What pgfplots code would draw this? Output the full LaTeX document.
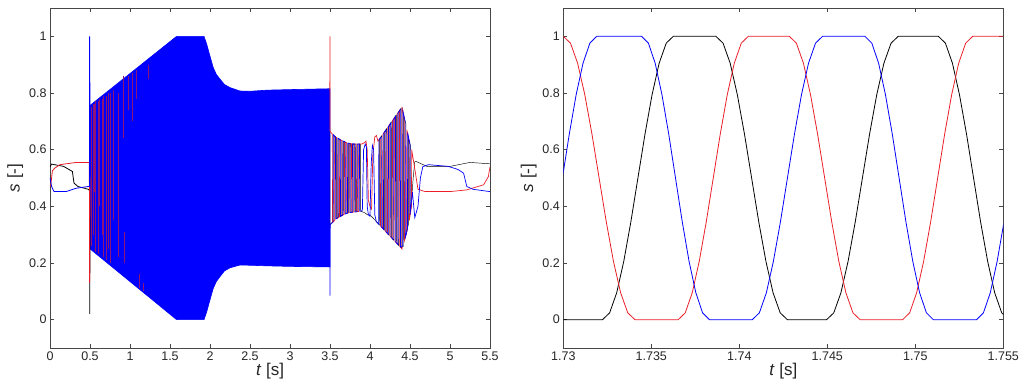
\documentclass[border=0pt]{standalone}
\usepackage{fontspec}
\setmainfont{Liberation Sans}
\usepackage{pgfplots}
\pgfplotsset{compat=1.18}
\definecolor{framegray}{RGB}{70,70,70}
\definecolor{mred}{RGB}{235,30,40}
\definecolor{mpurp}{RGB}{140,20,120}
\pgfplotsset{mystyle/.style={
  width=440pt, height=340pt, scale only axis,
  tick align=inside, tick pos=both, major tick length=4pt,
  axis line style={framegray, line width=0.7pt},
  every tick/.style={framegray, line width=0.7pt},
  ymin=-0.1, ymax=1.1,
  ytick={0,0.2,0.4,0.6,0.8,1},
  yticklabels={0,0.2,0.4,0.6,0.8,1},
  ticklabel style={font=\fontsize{12.5}{14}\selectfont, color=black!85},
  label style={font=\fontsize{17}{19}\selectfont, color=black!85},
  xlabel={\textit{t} [s]}, ylabel={\textit{s} [-]},
  xlabel style={yshift=4pt},
  ylabel style={yshift=-1pt},
  clip=true,
}}
\begin{document}
\begin{tikzpicture}
\path[use as bounding box] (-50pt,-39pt) rectangle (973pt,348pt);
% ---------------- left panel ----------------
\begin{axis}[mystyle, at={(0pt,0pt)}, anchor=south west,
  xmin=0, xmax=5.5,
  xtick={0,0.5,1,1.5,2,2.5,3,3.5,4,4.5,5,5.5},
  xticklabels={0,0.5,1,1.5,2,2.5,3,3.5,4,4.5,5,5.5}]
% dense blue band
\addplot[draw=blue, fill=blue, line width=0.6pt] coordinates {
(0.5,0.756) (1.583,1.0) (1.925,1.0) (1.958,0.973) (2.0,0.93) (2.04,0.89) (2.08,0.865) (2.125,0.849) (2.18,0.83) (2.25,0.819) (2.375,0.807) (2.5,0.806) (2.71,0.81) (3.0,0.812) (3.5,0.815)
(3.5,0.186) (3.0,0.188) (2.71,0.19) (2.5,0.192) (2.375,0.193) (2.25,0.183) (2.18,0.172) (2.125,0.152) (2.08,0.135) (2.04,0.11) (2.0,0.07) (1.958,0.027) (1.925,0) (1.583,0) (0.5,0.25)
} -- cycle;
% red/purple streaks inside the band
\addplot[mpurp, line width=0.8pt, unbounded coords=jump] coordinates {
(0.52,0.26) (0.52,0.75) (0.52,nan)
(0.54,0.30) (0.54,0.76) (0.54,nan)
(0.56,0.45) (0.56,0.76) (0.56,nan)
(0.57,0.24) (0.57,0.77) (0.57,nan)
(0.60,0.23) (0.60,0.77) (0.60,nan)
(0.62,0.40) (0.62,0.78) (0.62,nan)
(0.65,0.30) (0.65,0.78) (0.65,nan)
(0.67,0.22) (0.67,0.79) (0.67,nan)
(0.70,0.21) (0.70,0.79) (0.70,nan)
(0.73,0.25) (0.73,0.80) (0.73,nan)
(0.76,0.20) (0.76,0.80) (0.76,nan)
(0.79,0.35) (0.79,0.81) (0.79,nan)
(0.85,0.22) (0.85,0.80) (0.85,nan)
(0.92,0.64) (0.92,0.86) (0.92,nan)
(0.93,0.20) (0.93,0.31) (0.93,nan)
(0.98,0.74) (0.98,0.86) (0.98,nan)
(1.03,0.70) (1.03,0.87) (1.03,nan)
(1.08,0.78) (1.08,0.88) (1.08,nan)
(1.12,0.11) (1.12,0.16) (1.12,nan)
(1.17,0.10) (1.17,0.13) (1.17,nan)
(1.23,0.85) (1.23,0.90) (1.23,nan)
};
% black
\addplot[black, line width=0.8pt] coordinates {
(0,0.54) (0.02,0.549) (0.17,0.541) (0.28,0.523) (0.3,0.482) (0.35,0.47) (0.48,0.46) (0.495,0.455) (0.497,0.02) (0.5,0.4)
};
\addplot[black, line width=0.45pt] coordinates {
(3.5,0.665) (3.5,0.335) (3.549,0.350) (3.551,0.648) (3.579,0.642) (3.581,0.356) (3.609,0.362) (3.611,0.638) (3.639,0.633) (3.641,0.366) (3.669,0.371) (3.671,0.629) (3.699,0.625) (3.701,0.375) (3.729,0.377) (3.731,0.623) (3.759,0.621) (3.761,0.379) (3.789,0.380) (3.791,0.620) (3.819,0.620) (3.821,0.381) (3.849,0.382) (3.851,0.620) (3.879,0.620) (3.881,0.383)
(3.93,0.378) (3.97,0.37) (4.0,0.37) (4.05,0.355) (4.1,0.34)
(4.119,0.334) (4.121,0.638) (4.149,0.650) (4.151,0.325) (4.179,0.316) (4.181,0.662) (4.209,0.674) (4.211,0.307) (4.239,0.298) (4.241,0.686) (4.269,0.698) (4.271,0.289) (4.299,0.280) (4.301,0.710) (4.329,0.722) (4.331,0.271) (4.359,0.262) (4.361,0.734) (4.389,0.746) (4.391,0.253) (4.419,0.26) (4.421,0.72) (4.449,0.69) (4.451,0.30) (4.479,0.335) (4.481,0.64) (4.509,0.61) (4.511,0.39) (4.54,0.5)
(4.56,0.558) (4.58,0.558) (4.71,0.541) (5.0,0.541) (5.25,0.555) (5.5,0.55)
};
% red
\addplot[mred, line width=0.8pt] coordinates {
(0,0.47) (0.01,0.476) (0.03,0.525) (0.06,0.535) (0.125,0.547) (0.2,0.55) (0.33,0.555) (0.49,0.555) (0.492,0.555) (0.495,0.13) (0.5,0.5)
};
\addplot[mred, line width=0.7pt] coordinates {
(3.498,0.81) (3.499,1.0) (3.5,0.665) (3.529,0.655) (3.531,0.343) (3.559,0.350) (3.561,0.647) (3.589,0.641) (3.591,0.358) (3.619,0.363) (3.621,0.636) (3.649,0.632) (3.651,0.368) (3.679,0.372) (3.681,0.628) (3.709,0.624) (3.711,0.376) (3.739,0.378) (3.741,0.622) (3.769,0.621) (3.771,0.379) (3.799,0.380) (3.801,0.620) (3.829,0.620) (3.831,0.381) (3.859,0.382) (3.861,0.620) (3.889,0.620) (3.9,0.62)
(3.93,0.625) (3.95,0.63) (3.965,0.60) (3.98,0.42) (4.0,0.40) (4.02,0.39) (4.035,0.58) (4.06,0.645) (4.08,0.65) (4.1,0.63)
(4.129,0.642) (4.131,0.331) (4.159,0.322) (4.161,0.654) (4.189,0.666) (4.191,0.313) (4.219,0.304) (4.221,0.678) (4.249,0.690) (4.251,0.295) (4.279,0.286) (4.281,0.702) (4.309,0.714) (4.311,0.277) (4.339,0.268) (4.341,0.726) (4.369,0.738) (4.371,0.259) (4.399,0.250) (4.401,0.750) (4.429,0.71) (4.431,0.28) (4.459,0.31) (4.461,0.67) (4.489,0.63) (4.491,0.35) (4.519,0.40) (4.521,0.60)
(4.55,0.55) (4.6,0.46) (4.69,0.452) (5.0,0.452) (5.21,0.458) (5.42,0.476) (5.48,0.505) (5.5,0.54)
};
% blue
\addplot[blue, line width=0.8pt] coordinates {
(0,0.5) (0.02,0.47) (0.05,0.452) (0.2,0.452) (0.33,0.464) (0.48,0.47) (0.493,0.47) (0.495,1.0) (0.5,0.74)
};
\addplot[blue, line width=0.7pt] coordinates {
(3.499,0.19) (3.5,0.085) (3.502,0.335) (3.539,0.345) (3.541,0.653) (3.569,0.645) (3.571,0.355) (3.599,0.36) (3.601,0.640) (3.629,0.635) (3.631,0.364) (3.659,0.369) (3.661,0.631) (3.689,0.627) (3.691,0.373) (3.719,0.376) (3.721,0.623) (3.749,0.622) (3.751,0.378) (3.779,0.379) (3.781,0.621) (3.809,0.620) (3.811,0.380) (3.839,0.381) (3.841,0.620) (3.869,0.620) (3.871,0.383) (3.899,0.384) (3.905,0.39)
(3.92,0.6) (3.94,0.62) (3.955,0.61) (3.965,0.40) (3.98,0.37) (4.0,0.365) (4.015,0.55) (4.03,0.615) (4.045,0.60) (4.06,0.37) (4.08,0.345) (4.1,0.34)
(4.109,0.337) (4.111,0.634) (4.139,0.645) (4.141,0.328) (4.169,0.319) (4.171,0.658) (4.199,0.670) (4.201,0.310) (4.229,0.301) (4.231,0.682) (4.259,0.694) (4.261,0.292) (4.289,0.283) (4.291,0.706) (4.319,0.718) (4.321,0.274) (4.349,0.265) (4.351,0.730) (4.379,0.742) (4.381,0.256) (4.409,0.26) (4.411,0.737) (4.439,0.70) (4.441,0.29) (4.469,0.32) (4.471,0.66) (4.499,0.62) (4.501,0.37)
(4.53,0.45) (4.56,0.36) (4.6,0.40) (4.63,0.5) (4.66,0.54) (4.73,0.547) (4.98,0.541) (5.1,0.53) (5.17,0.517) (5.21,0.47) (5.29,0.46) (5.5,0.452)
};
\end{axis}
% ---------------- right panel ----------------
\begin{axis}[mystyle, at={(513.3pt,0pt)}, anchor=south west,
  xmin=1.73, xmax=1.755,
  xtick={1.73,1.735,1.74,1.745,1.75,1.755},
  xticklabels={1.73,1.735,1.74,1.745,1.75,1.755},
  scaled x ticks=false]
\addplot[black, line width=0.8pt] coordinates {
(1.7295,0)(1.73223,0)(1.732632,0.024)(1.733034,0.095)(1.733436,0.206)(1.733838,0.345)(1.73424,0.5)(1.734642,0.655)(1.735044,0.794)(1.735446,0.905)(1.735848,0.976)(1.73625,1)
(1.73867,1)(1.739076,0.976)(1.739482,0.905)(1.739888,0.794)(1.740294,0.655)(1.7407,0.5)(1.741106,0.345)(1.741512,0.206)(1.741918,0.095)(1.742324,0.024)(1.74273,0)
(1.74496,0)(1.745367,0.024)(1.745774,0.095)(1.746181,0.206)(1.746588,0.345)(1.746995,0.5)(1.747402,0.655)(1.747809,0.794)(1.748216,0.905)(1.748623,0.976)(1.74903,1)
(1.75131,1)(1.75171,0.976)(1.75211,0.905)(1.75251,0.794)(1.75291,0.655)(1.75331,0.5)(1.75371,0.345)(1.75411,0.206)(1.75451,0.095)(1.75491,0.024)(1.75531,0)
};
\addplot[mred, line width=0.8pt] coordinates {
(1.7295,1)(1.73,1)(1.730407,0.976)(1.730814,0.905)(1.731221,0.794)(1.731628,0.655)(1.732035,0.5)(1.732442,0.345)(1.732849,0.206)(1.733256,0.095)(1.733663,0.024)(1.73407,0)
(1.73653,0)(1.736928,0.024)(1.737326,0.095)(1.737724,0.206)(1.738122,0.345)(1.73852,0.5)(1.738918,0.655)(1.739316,0.794)(1.739714,0.905)(1.740112,0.976)(1.74051,1)
(1.74284,1)(1.743242,0.976)(1.743644,0.905)(1.744046,0.794)(1.744448,0.655)(1.74485,0.5)(1.745252,0.345)(1.745654,0.206)(1.746056,0.095)(1.746458,0.024)(1.74686,0)
(1.74928,0)(1.749678,0.024)(1.750076,0.095)(1.750474,0.206)(1.750872,0.345)(1.75127,0.5)(1.751668,0.655)(1.752066,0.794)(1.752464,0.905)(1.752862,0.976)(1.75326,1)(1.7556,1)
};
\addplot[blue, line width=0.8pt] coordinates {
(1.7280,0)(1.72839,0.024)(1.72878,0.095)(1.72917,0.206)(1.72956,0.345)(1.72995,0.5)(1.73034,0.655)(1.73073,0.794)(1.73112,0.905)(1.73151,0.976)(1.7319,1)
(1.73445,1)(1.734835,0.976)(1.73522,0.905)(1.735605,0.794)(1.73599,0.655)(1.736375,0.5)(1.73676,0.345)(1.737145,0.206)(1.73753,0.095)(1.737915,0.024)(1.7383,0)
(1.74074,0)(1.741139,0.024)(1.741538,0.095)(1.741937,0.206)(1.742336,0.345)(1.742735,0.5)(1.743134,0.655)(1.743533,0.794)(1.743932,0.905)(1.744331,0.976)(1.74473,1)
(1.74714,1)(1.747528,0.976)(1.747916,0.905)(1.748304,0.794)(1.748692,0.655)(1.74908,0.5)(1.749468,0.345)(1.749856,0.206)(1.750244,0.095)(1.750632,0.024)(1.75102,0)
(1.75348,0)(1.75387,0.024)(1.75426,0.095)(1.75465,0.206)(1.75504,0.345)(1.75543,0.5)
};
\end{axis}
\end{tikzpicture}
\end{document}
